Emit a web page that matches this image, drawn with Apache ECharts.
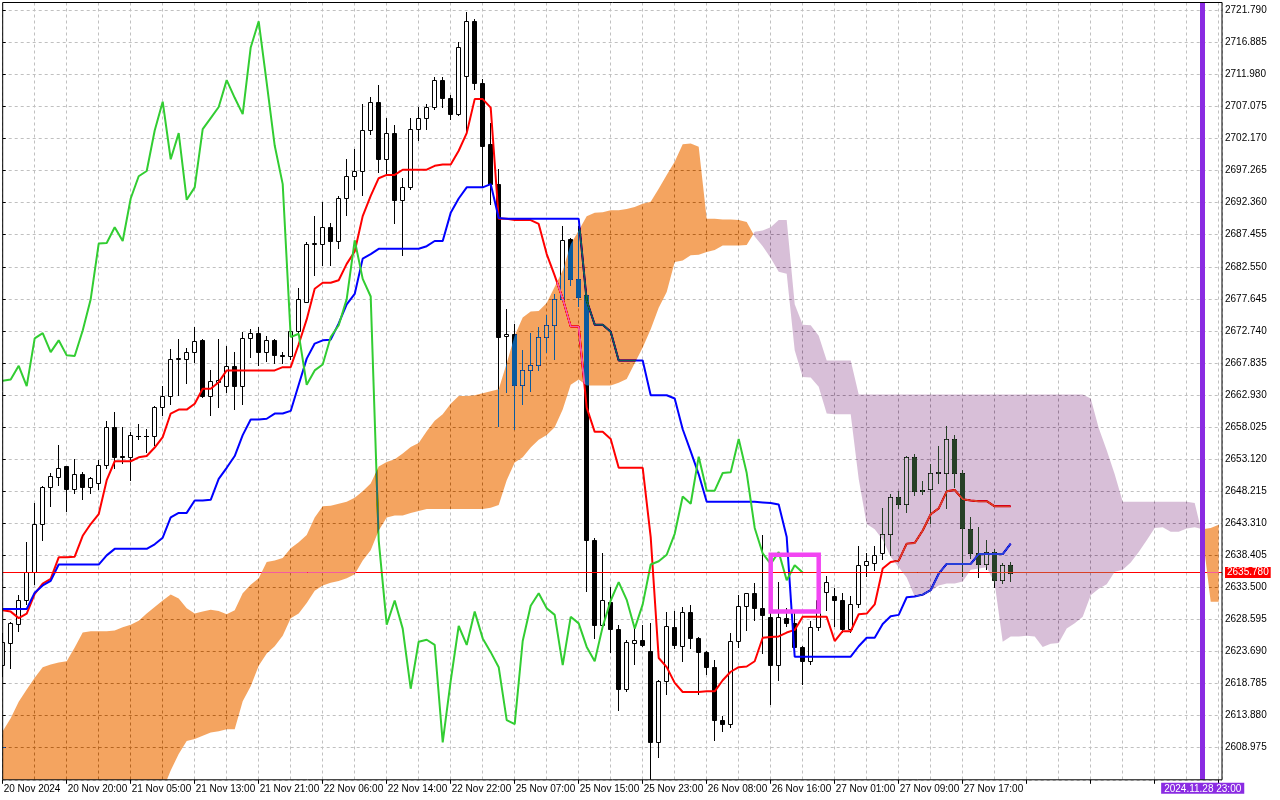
<!DOCTYPE html>
<html>
<head>
<meta charset="utf-8">
<script src="https://cdn.jsdelivr.net/npm/echarts@6/dist/echarts.min.js"></script>
<style>
html,body{margin:0;padding:0;background:#ffffff;}
#chart{width:1280px;height:800px;}
</style>
</head>
<body>
<div id="chart"></div>
<script>
// ---------------- data ----------------
const timeLabels = ["20 Nov 2024","20 Nov 20:00","21 Nov 05:00","21 Nov 13:00","21 Nov 21:00","22 Nov 06:00","22 Nov 14:00","22 Nov 22:00","25 Nov 07:00","25 Nov 15:00","25 Nov 23:00","26 Nov 08:00","26 Nov 16:00","27 Nov 01:00","27 Nov 09:00","27 Nov 17:00"];

const opens = [2621.7,2625.0,2627.9,2631.6,2635.8,2643.2,2648.8,2650.4,2652.0,2648.5,
2650.9,2648.8,2649.5,2652.2,2658.0,2653.6,2653.4,2656.6,2656.6,2656.6,
2661.1,2662.8,2668.5,2668.5,2669.5,2671.4,2662.8,2664.9,2664.3,2667.4,
2664.3,2671.6,2672.4,2669.5,2671.3,2669.0,2668.9,2672.8,2677.2,2686.1,
2686.1,2688.6,2686.5,2693.0,2696.4,2697.2,2703.4,2707.8,2699.0,2703.0,
2692.8,2694.7,2703.6,2705.3,2707.0,2711.1,2708.4,2705.9,2711.8,2720.1,
2710.7,2701.3,2695.2,2672.0,2672.2,2664.5,2666.7,2667.6,2671.8,2673.6,
2677.6,2686.8,2680.7,2678.2,2640.8,2627.8,2631.3,2627.2,2618.0,2625.0,
2625.5,2623.8,2609.8,2619.2,2627.5,2624.5,2629.8,2625.7,2623.6,2621.3,
2613.2,2612.6,2625.3,2630.7,2632.6,2630.3,2629.0,2621.6,2628.8,2628.0,
2624.4,2622.2,2627.5,2632.8,2632.2,2631.6,2627.2,2630.9,2637.0,2637.2,
2638.7,2641.7,2647.4,2646.2,2653.5,2648.4,2648.6,2651.0,2651.0,2656.2,
2651.0,2642.5,2638.7,2637.1,2638.9,2634.6,2636.9];

const highs = [2626.5,2628.2,2632.4,2640.4,2646.4,2649.0,2651.0,2655.3,2652.1,2653.1,
2651.2,2650.4,2653.0,2658.9,2660.4,2658.1,2657.2,2658.5,2657.8,2661.2,
2664.3,2669.9,2671.5,2670.1,2673.4,2671.5,2666.8,2671.5,2670.5,2669.5,
2672.6,2673.0,2673.4,2671.9,2671.5,2669.5,2673.0,2679.3,2686.3,2690.3,
2692.4,2689.2,2693.4,2699.0,2700.5,2707.5,2708.5,2710.3,2705.3,2704.2,
2696.2,2705.3,2707.0,2707.5,2711.6,2711.6,2708.8,2717.0,2721.6,2720.5,
2711.3,2704.5,2697.5,2676.1,2673.8,2669.8,2672.4,2673.4,2675.2,2678.4,
2688.8,2687.0,2688.8,2678.3,2641.0,2638.8,2633.6,2627.8,2625.5,2627.8,
2627.8,2628.0,2619.3,2629.8,2629.9,2630.5,2630.8,2625.9,2623.8,2622.4,
2613.8,2626.5,2632.4,2632.7,2634.2,2641.5,2632.0,2634.4,2630.3,2630.0,
2624.5,2628.4,2632.0,2635.3,2633.4,2632.6,2632.2,2639.9,2638.8,2639.9,
2645.7,2647.8,2648.2,2653.6,2653.9,2649.8,2652.4,2655.1,2658.2,2656.8,
2651.5,2644.3,2642.7,2640.7,2639.4,2637.2,2637.4];

const lows = [2620.0,2621.2,2626.9,2631.0,2634.0,2640.8,2646.0,2649.2,2645.2,2648.0,
2647.1,2647.9,2648.5,2651.7,2651.7,2652.5,2650.0,2656.2,2654.2,2655.3,
2659.9,2661.6,2663.0,2664.7,2668.0,2662.6,2659.9,2661.1,2663.4,2660.8,
2661.5,2668.8,2667.6,2668.2,2667.8,2667.8,2668.4,2672.4,2677.1,2681.3,
2682.8,2682.8,2685.5,2690.5,2694.5,2693.5,2702.8,2697.0,2696.8,2689.2,
2684.4,2694.4,2701.9,2703.6,2706.7,2707.0,2705.2,2705.7,2703.0,2709.8,
2694.7,2692.2,2658.2,2663.4,2657.8,2661.5,2663.6,2666.8,2669.5,2668.5,
2677.4,2679.8,2676.5,2633.0,2625.7,2627.6,2623.6,2614.7,2617.6,2621.8,
2624.5,2604.2,2607.6,2617.2,2624.2,2622.2,2624.2,2617.2,2620.3,2610.1,
2611.6,2612.2,2624.4,2627.0,2628.5,2623.4,2615.7,2619.3,2627.6,2624.2,
2618.8,2621.8,2627.0,2630.0,2627.6,2626.7,2626.7,2630.5,2635.3,2636.1,
2637.9,2638.5,2645.6,2645.1,2647.7,2647.8,2643.3,2649.4,2645.7,2648.9,
2635.3,2638.0,2635.1,2636.3,2633.5,2634.1,2634.5];

const closes = [2625.1,2628.0,2631.6,2635.8,2643.2,2648.8,2650.5,2651.7,2648.5,2650.9,
2648.8,2650.2,2652.2,2658.0,2653.4,2653.4,2656.8,2656.7,2656.6,2661.1,
2662.8,2668.5,2668.6,2669.5,2671.2,2662.8,2665.1,2665.3,2667.4,2664.3,
2671.6,2672.4,2669.5,2671.3,2669.0,2668.9,2672.8,2677.6,2686.1,2686.2,
2688.6,2686.5,2693.0,2696.4,2697.2,2703.4,2707.8,2699.0,2703.0,2692.8,
2694.7,2703.6,2705.3,2707.0,2711.1,2708.4,2705.9,2716.1,2720.1,2710.7,
2701.1,2695.2,2671.8,2672.3,2664.5,2666.7,2667.6,2671.8,2673.6,2677.6,
2686.6,2680.7,2678.0,2640.7,2627.8,2631.5,2627.2,2618.0,2625.2,2625.5,
2624.7,2609.8,2619.2,2627.6,2624.7,2629.8,2625.7,2623.6,2621.3,2613.2,
2612.6,2625.3,2630.7,2632.6,2630.3,2629.3,2621.6,2629.0,2628.0,2624.4,
2622.2,2627.5,2631.5,2634.3,2631.6,2627.2,2630.9,2637.0,2637.5,2638.5,
2641.7,2647.4,2646.3,2653.5,2648.3,2648.3,2651.0,2651.1,2656.2,2651.0,
2642.6,2638.7,2637.1,2638.9,2634.6,2636.9,2635.78];

const tenkan = [2630.0,2629.8,2628.8,2629.5,2632.5,2634.1,2634.8,2638.1,2638.1,2638.2,
2641.4,2643.2,2644.7,2649.9,2652.8,2652.8,2652.8,2653.4,2653.6,2654.9,
2656.5,2660.1,2660.7,2660.7,2661.6,2663.9,2663.9,2664.9,2666.7,2666.7,
2666.7,2666.7,2666.7,2666.7,2666.7,2667.2,2667.2,2670.7,2674.5,2679.2,
2680.1,2680.1,2680.5,2683.0,2684.9,2690.3,2693.4,2696.1,2696.6,2696.6,
2697.4,2697.4,2697.4,2697.4,2698.0,2698.2,2698.2,2700.3,2703.0,2708.2,
2708.2,2706.9,2689.9,2689.9,2689.7,2689.7,2689.7,2689.1,2684.5,2681.2,
2677.7,2673.4,2673.4,2661.0,2657.3,2657.3,2656.2,2651.8,2651.8,2651.8,
2651.8,2641.2,2622.7,2621.3,2618.9,2617.5,2617.5,2617.5,2617.6,2617.6,
2619.3,2620.6,2621.3,2621.4,2622.2,2625.8,2625.9,2626.0,2626.6,2627.0,
2629.0,2629.0,2629.0,2629.0,2625.3,2626.8,2626.8,2629.4,2629.5,2630.9,
2636.4,2637.4,2637.6,2640.2,2640.3,2642.2,2644.7,2645.6,2648.2,2648.4,
2647.0,2646.8,2646.7,2646.7,2645.9,2645.9,2645.9];

const kijun = [2630.2,2630.2,2630.2,2630.2,2632.7,2633.8,2634.5,2637.0,2637.0,2637.0,
2637.0,2637.0,2637.0,2638.4,2639.4,2639.4,2639.4,2639.4,2639.4,2640.1,
2641.1,2644.2,2644.9,2644.9,2646.8,2646.8,2646.9,2650.1,2651.8,2653.6,
2656.8,2659.2,2659.2,2659.3,2660.1,2660.1,2660.5,2664.5,2668.5,2670.8,
2671.3,2671.4,2673.9,2676.8,2678.4,2683.8,2684.5,2685.3,2685.3,2685.3,
2685.3,2685.3,2685.3,2685.7,2686.5,2686.5,2690.8,2693.0,2694.7,2694.7,
2694.7,2695.2,2690.0,2689.9,2689.9,2689.9,2689.9,2689.9,2689.9,2689.9,
2689.9,2689.9,2689.9,2677.4,2673.7,2673.7,2672.6,2668.2,2668.2,2668.2,
2668.2,2662.9,2662.9,2662.9,2662.4,2657.7,2654.3,2650.8,2646.6,2646.6,
2646.6,2646.6,2646.6,2646.6,2646.6,2646.5,2646.4,2646.2,2641.2,2622.9,
2622.9,2622.9,2622.9,2622.9,2622.9,2622.9,2622.9,2624.5,2625.8,2625.8,
2627.9,2629.1,2629.3,2632.0,2632.1,2632.4,2633.1,2635.6,2637.1,2637.1,
2637.1,2637.1,2638.6,2638.6,2638.6,2638.6,2640.2];

const chikou = [2665.1,2665.3,2667.4,2664.3,2671.6,2672.4,2669.5,2671.3,2669.0,2668.9,
2672.8,2677.6,2686.1,2686.2,2688.6,2686.5,2693.0,2696.4,2697.2,2703.4,
2707.8,2699.0,2703.0,2692.8,2694.7,2703.6,2705.3,2707.0,2711.1,2708.4,
2705.9,2716.1,2720.1,2710.7,2701.1,2695.2,2671.8,2672.3,2664.5,2666.7,
2667.6,2671.8,2673.6,2677.6,2686.6,2680.7,2678.0,2640.7,2627.8,2631.5,
2627.2,2618.0,2625.2,2625.5,2624.7,2609.8,2619.2,2627.6,2624.7,2629.8,
2625.7,2623.6,2621.3,2613.2,2612.6,2625.3,2630.7,2632.6,2630.3,2629.3,
2621.6,2629.0,2628.0,2624.4,2622.2,2627.5,2631.5,2634.3,2631.6,2627.2,
2630.9,2637.0,2637.5,2638.5,2641.7,2647.4,2646.3,2653.5,2648.3,2648.3,
2651.0,2651.1,2656.2,2651.0,2642.6,2638.7,2637.1,2638.9,2634.6,2636.9,
2635.78];

const senkouA = [2611.5,2613.5,2616.0,2617.9,2619.7,2621.3,2621.7,2622.0,2622.2,2624.3,
2626.6,2626.8,2626.8,2626.8,2626.9,2627.4,2627.8,2628.4,2629.5,2630.5,
2631.5,2632.4,2631.8,2630.3,2629.5,2629.8,2630.1,2629.9,2629.4,2630.0,
2632.6,2633.9,2634.9,2637.4,2637.6,2638.0,2639.5,2640.4,2641.5,2644.2,
2645.9,2646.0,2646.3,2646.6,2647.2,2648.2,2649.4,2652.0,2652.7,2653.1,
2654.0,2655.0,2655.6,2657.4,2659.0,2660.0,2661.6,2662.8,2662.8,2662.9,
2663.2,2663.5,2663.8,2667.8,2672.0,2674.8,2675.7,2675.8,2677.0,2679.5,
2682.0,2686.0,2688.1,2690.3,2690.8,2690.9,2691.2,2691.2,2691.4,2691.7,
2692.2,2692.5,2694.5,2696.6,2698.6,2701.3,2701.4,2700.9,2689.9,2689.9,
2689.8,2689.8,2689.7,2689.4,2687.2,2685.7,2683.9,2681.8,2681.5,2669.8,
2665.7,2665.6,2664.2,2660.1,2660.0,2660.0,2660.0,2650.1,2643.2,2642.4,
2640.8,2638.2,2636.6,2635.0,2632.1,2632.2,2632.9,2633.8,2634.1,2634.1,
2634.4,2636.2,2636.4,2636.6,2634.1,2625.2,2626.0,2626.0,2626.1,2626.0,
2624.4,2624.9,2625.0,2627.2,2628.0,2629.0,2632.3,2633.3,2634.0,2635.9,
2636.2,2637.3,2638.9,2640.7,2642.6,2642.7,2642.0,2642.0,2642.5,2642.7,
2642.4,2642.6,2643.1];

const senkouB = [2600.0,2600.0,2600.0,2600.0,2600.0,2600.0,2600.0,2600.0,2600.0,2600.0,
2600.0,2600.0,2600.0,2600.0,2600.0,2600.0,2600.0,2600.0,2600.0,2600.0,
2602.5,2605.5,2608.0,2610.0,2610.3,2610.8,2611.3,2611.5,2611.8,2611.8,
2616.1,2618.4,2621.5,2623.4,2624.5,2626.1,2628.8,2629.5,2631.1,2633.0,
2633.8,2634.2,2634.5,2634.9,2635.5,2637.6,2639.2,2642.2,2644.2,2644.5,
2644.5,2644.9,2645.2,2645.5,2645.5,2645.5,2645.5,2645.5,2645.5,2645.5,
2645.5,2645.7,2646.1,2649.9,2652.6,2653.4,2654.9,2656.1,2656.8,2658.0,
2660.7,2664.5,2665.3,2664.4,2664.4,2664.4,2664.4,2664.8,2665.4,2667.8,
2670.2,2673.0,2676.3,2678.7,2683.3,2683.5,2684.3,2684.4,2684.8,2685.1,
2685.8,2685.8,2685.8,2685.9,2687.9,2688.1,2688.6,2689.7,2689.7,2676.8,
2673.7,2673.6,2672.0,2668.2,2668.2,2668.2,2668.2,2663.0,2663.0,2663.0,
2663.0,2663.0,2663.0,2663.0,2663.0,2663.0,2663.0,2663.0,2663.0,2663.0,
2663.0,2663.0,2663.0,2663.0,2663.0,2663.0,2663.0,2663.0,2663.0,2663.0,
2663.0,2663.0,2663.0,2663.0,2663.0,2663.0,2662.4,2657.9,2654.5,2650.8,
2646.6,2646.6,2646.6,2646.6,2646.6,2646.6,2646.6,2646.6,2646.6,2646.4,
2641.3,2631.3,2631.3];

const currentPrice = 2635.78;
const markerBar = 150;
const markerTime = "2024.11.28 23:00";
const boxBars = [96, 102];
const boxPrices = [2638.5, 2629.8];

// ---------------- rendering ----------------
const FONT = '"Liberation Sans", Arial, sans-serif';
const FS = 10;
const GRIDC = '#c0c0c0';

function renderCandle(params, api) {
  const i = api.value(0);
  const o = api.value(1), h = api.value(2), l = api.value(3), c = api.value(4);
  const pH = api.coord([i, h]), pL = api.coord([i, l]);
  const pO = api.coord([i, o]), pC = api.coord([i, c]);
  const col = Math.round(pH[0] - 0.5);
  const xw = col + 0.5;
  const yTop = Math.round(Math.min(pO[1], pC[1]));
  const yBot = Math.round(Math.max(pO[1], pC[1]));
  const bull = c >= o;
  const children = [{
    type: 'line',
    shape: {x1: xw, y1: Math.round(pH[1]), x2: xw, y2: Math.round(pL[1]) + 1},
    style: {stroke: '#000', lineWidth: 1}
  }];
  if (yBot - yTop < 1) {
    children.push({type: 'line', shape: {x1: col - 2, y1: yTop + 0.5, x2: col + 3, y2: yTop + 0.5},
      style: {stroke: '#000', lineWidth: 1}});
  } else {
    children.push({type: 'rect', shape: {x: col - 1.5, y: yTop + 0.5, width: 4, height: yBot - yTop},
      style: {fill: bull ? '#ffffff' : '#000000', stroke: '#000', lineWidth: 1}});
  }
  return {type: 'group', children: children};
}

function renderCloud(params, api) {
  const runs = [];
  let cur = null, prevA = null;
  for (let i = 0; i < senkouA.length; i++) {
    const pa = api.coord([i, senkouA[i]]);
    const pb = api.coord([i, senkouB[i]]);
    const up = senkouA[i] >= senkouB[i];
    if (cur && cur.up !== up) {
      const d0 = senkouA[i - 1] - senkouB[i - 1], d1 = senkouA[i] - senkouB[i];
      const t = d0 / (d0 - d1);
      const pc = [prevA[0] + t * (pa[0] - prevA[0]), prevA[1] + t * (pa[1] - prevA[1])];
      cur.a.push(pc); cur.b.push(pc);
      runs.push(cur);
      cur = {up: up, a: [pc], b: [pc]};
    }
    if (!cur) cur = {up: up, a: [], b: []};
    cur.a.push(pa); cur.b.push(pb);
    prevA = pa;
  }
  runs.push(cur);
  return {
    type: 'group',
    children: runs.map(r => ({
      type: 'polygon',
      shape: {points: r.a.concat(r.b.slice().reverse())},
      // difference against white gives SandyBrown / Thistle, and tints what lies beneath like MT5 does
      style: {fill: r.up ? '#0b5b9f' : '#274027', blend: 'difference'}
    }))
  };
}

const candleData = opens.map((o, i) => [i, o, highs[i], lows[i], closes[i]]);
const toXY = arr => arr.map((v, i) => [i, v]);

const chart = echarts.init(document.getElementById('chart'), null, {renderer: 'canvas'});

const option = {
  animation: false,
  backgroundColor: '#ffffff',
  textStyle: {fontFamily: FONT},
  grid: {left: 2.7, right: 58, top: 2.5, bottom: 20.2, show: true, borderColor: '#000', borderWidth: 1,
         backgroundColor: 'transparent', z: 20},
  xAxis: [{
    type: 'value', min: 0, max: 152.4125, interval: 8,
    axisLine: {show: false},
    axisTick: {show: true, length: 4, lineStyle: {color: '#000'}},
    axisLabel: {
      show: true, align: 'left', margin: 4, padding: [0, 0, 0, 1], color: '#000', fontSize: FS, fontFamily: FONT,
      showMinLabel: true, showMaxLabel: false,
      formatter: function (v) {
        const k = Math.round(v / 8);
        return (Math.abs(v - k * 8) < 1e-6 && k < timeLabels.length) ? timeLabels[k] : '';
      }
    },
    splitLine: {show: false}
  }, {
    type: 'value', min: 0, max: 152.4125, interval: 4, position: 'bottom',
    axisLine: {show: false}, axisTick: {show: false}, axisLabel: {show: false},
    splitLine: {show: true, lineStyle: {color: GRIDC, type: [3, 3], width: 1}}
  }],
  yAxis: {
    type: 'value', position: 'right', min: 2604.07, max: 2722.98, interval: 4.905,
    axisLine: {show: false},
    axisTick: {show: true, length: 3, lineStyle: {color: '#000'}},
    axisLabel: {color: '#000', fontSize: FS, fontFamily: FONT, margin: 3, showMinLabel: false, showMaxLabel: false,
      formatter: v => v.toFixed(3)},
    splitLine: {show: true, lineStyle: {color: GRIDC, type: [3, 3], width: 1}}
  },
  series: [
    {
      name: 'candles', type: 'custom', renderItem: renderCandle, data: candleData,
      encode: {x: 0, y: [1, 2, 3, 4]}, clip: true, silent: true, z: 2
    },
    {
      name: 'tenkan', type: 'line', data: toXY(tenkan), symbol: 'none', silent: true, z: 3,
      lineStyle: {color: '#ff0000', width: 2}, itemStyle: {color: '#ff0000'}
    },
    {
      name: 'kijun', type: 'line', data: toXY(kijun), symbol: 'none', silent: true, z: 3,
      lineStyle: {color: '#0000ff', width: 2}, itemStyle: {color: '#0000ff'}
    },
    {
      name: 'chikou', type: 'line', data: toXY(chikou), symbol: 'none', silent: true, z: 3,
      lineStyle: {color: '#32cd32', width: 2}, itemStyle: {color: '#32cd32'},
      markLine: {
        silent: true, z: 4, symbol: ['none', 'none'], animation: false,
        lineStyle: {color: '#ff0000', width: 1, type: 'solid'},
        label: {show: true, position: 'end', distance: 3, formatter: currentPrice.toFixed(3),
          color: '#ffffff', backgroundColor: '#ff0000', padding: [1, 2, 0, 2], fontSize: FS, fontFamily: FONT},
        data: [{yAxis: currentPrice}]
      }
    },
    {
      name: 'cloud', type: 'custom', renderItem: renderCloud, data: [[0, 2650]],
      encode: {x: 0, y: 1}, clip: true, silent: true, z: 8, blendMode: 'difference'
    },
    {
      name: 'annotations', type: 'line', data: [], symbol: 'none', silent: true, z: 12,
      markLine: {
        silent: true, z: 12, symbol: ['none', 'none'], animation: false,
        lineStyle: {color: '#8a2be2', width: 5, type: 'solid'},
        label: {show: true, position: 'start', distance: 3, formatter: markerTime,
          color: '#ffffff', backgroundColor: '#8a2be2', padding: [1, 3, 0, 3], fontSize: FS, fontFamily: FONT},
        data: [{xAxis: markerBar}]
      },
      markArea: {
        silent: true, z: 12,
        itemStyle: {color: 'rgba(0,0,0,0)', borderColor: '#f245f2', borderWidth: 4.5},
        label: {show: false},
        data: [[{xAxis: boxBars[0], yAxis: boxPrices[0]}, {xAxis: boxBars[1], yAxis: boxPrices[1]}]]
      }
    }
  ]
};
chart.setOption(option);
</script>
</body>
</html>
